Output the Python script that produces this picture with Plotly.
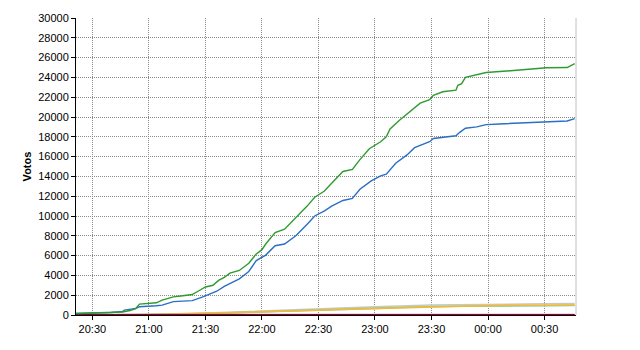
import pandas as pd
import plotly.graph_objects as go

green_t = ["20:21","20:30","20:40","20:46","20:50","20:53","20:55","21:00","21:04","21:07","21:10","21:13","21:18","21:23","21:27","21:30","21:34","21:37","21:40","21:43","21:48","21:53","21:57","22:00","22:02","22:07","22:12","22:18","22:24","22:28","22:33","22:38","22:43","22:48","22:52","22:57","23:03","23:06","23:08","23:13","23:19","23:24","23:29","23:31","23:36","23:43","23:44","23:46","23:48","23:54","23:59","00:12","00:24","00:31","00:42","00:46"]
green_v = [150,180,250,300,450,650,1100,1170,1230,1500,1650,1830,1950,2070,2500,2830,3000,3500,3800,4230,4500,5230,6170,6600,7170,8330,8670,9830,11000,11900,12500,13500,14500,14700,15700,16800,17500,18000,18800,19670,20600,21400,21750,22200,22550,22720,23200,23370,24000,24250,24500,24670,24900,24970,25000,25400]

blue_t = ["20:21","20:30","20:40","20:46","20:47","20:53","20:55","21:04","21:07","21:13","21:23","21:29","21:36","21:40","21:43","21:48","21:53","21:57","22:02","22:07","22:12","22:18","22:24","22:28","22:33","22:37","22:43","22:48","22:52","22:58","23:03","23:06","23:11","23:17","23:21","23:25","23:29","23:31","23:36","23:43","23:45","23:48","23:54","23:59","00:06","00:24","00:42","00:46"]
blue_v = [150,180,250,350,500,670,830,930,1000,1350,1450,1850,2400,2900,3200,3650,4400,5500,6050,7000,7170,8000,9170,10000,10500,11000,11570,11770,12700,13550,14050,14230,15330,16170,16900,17170,17500,17830,17970,18100,18450,18870,19000,19230,19300,19470,19600,19830]

small_t = ["20:21","20:45","21:00","21:30","22:00","22:30","23:00","23:30","00:00","00:30","00:46"]
gray_v = [0,20,50,200,420,620,830,1000,1100,1130,1150]
orange_v = [0,20,50,170,330,500,670,880,970,990,1000]
lime_v = [0,15,40,150,310,480,700,870,950,970,980]
cyan_v = [0,10,30,130,280,450,650,850,900,930,950]
pink_v = [60,60,60,60,60,60,60,60,60,60,60]
red_v = [15,15,15,15,15,15,15,15,15,15,15]


def to_dt(times):
    out = []
    for s in times:
        h, m = map(int, s.split(":"))
        day = 2 if h < 12 else 1
        out.append(pd.Timestamp(2011, 5, day, h, m))
    return out


fig = go.Figure()
small = [(gray_v, "#c8c8c8"), (cyan_v, "#7fd8e8"), (lime_v, "#a8d060"), (orange_v, "#f5b83a"),
         (pink_v, "#e070b0"), (red_v, "#8b0030")]
for vals, col in small:
    fig.add_trace(go.Scatter(x=to_dt(small_t), y=vals, mode="lines",
                             line=dict(color=col, width=1.5), showlegend=False))
fig.add_trace(go.Scatter(x=to_dt(blue_t), y=blue_v, mode="lines",
                         line=dict(color="#2a6fc4", width=1.4), showlegend=False))
fig.add_trace(go.Scatter(x=to_dt(green_t), y=green_v, mode="lines",
                         line=dict(color="#2f9a2f", width=1.4), showlegend=False))

fig.update_layout(
    width=640, height=350,
    margin=dict(l=76, r=64, t=15, b=35),
    paper_bgcolor="white", plot_bgcolor="white",
    font=dict(family="Liberation Sans, Arial, sans-serif", size=11, color="black"),
    xaxis=dict(
        range=[pd.Timestamp(2011, 5, 1, 20, 21, 18), pd.Timestamp(2011, 5, 2, 0, 46, 42)],
        tickformat="%H:%M", dtick=30 * 60 * 1000,
        tick0=pd.Timestamp(2011, 5, 1, 20, 30),
        showgrid=True, gridcolor="#8a8a8a", griddash="1px,1px", gridwidth=1,
        showline=True, linecolor="black", linewidth=1,
        ticks="outside", ticklen=4, tickcolor="black",
        zeroline=False, mirror=False,
    ),
    yaxis=dict(
        range=[0, 30000], dtick=2000,
        showgrid=True, gridcolor="#8a8a8a", griddash="1px,1px", gridwidth=1,
        showline=True, linecolor="black", linewidth=1,
        ticks="outside", ticklen=4, tickcolor="black",
        zeroline=False, tickformat="d",
        title=dict(text="<b>Votos</b>", standoff=4, font=dict(size=11)),
    ),
    shapes=[dict(type="line", xref="paper", yref="paper", x0=1, x1=1, y0=0, y1=1,
                 line=dict(color="#c0c0c0", width=1))],
)

fig.write_html("out.html")
